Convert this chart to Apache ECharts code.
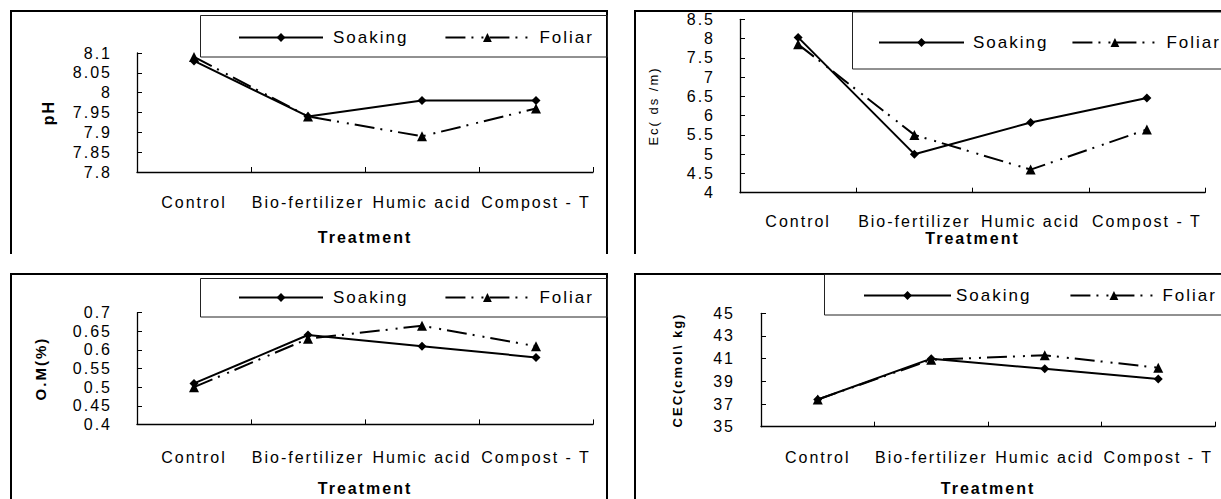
<!DOCTYPE html>
<html>
<head>
<meta charset="utf-8">
<script src="https://cdn.jsdelivr.net/npm/echarts@6/dist/echarts.min.js"></script>
<style>
  html, body { margin: 0; padding: 0; background: #fff; }
  #main { width: 1221px; height: 499px; }
  #main text { letter-spacing: 2px; }
</style>
</head>
<body>
<div id="main"></div>
<script>
// ---- data ----
var categories = ['Control', 'Bio-fertilizer', 'Humic acid', 'Compost - T'];
var seriesNames = ['Soaking', 'Foliar'];

var phSoaking = [8.08, 7.94, 7.98, 7.98];
var phFoliar  = [8.09, 7.94, 7.89, 7.96];

var ecSoaking = [8.03, 5.0, 5.82, 6.46];
var ecFoliar  = [7.85, 5.5, 4.6, 5.64];

var omSoaking = [0.51, 0.64, 0.61, 0.58];
var omFoliar  = [0.50, 0.63, 0.665, 0.61];

var cecSoaking = [37.4, 41.0, 40.1, 39.2];
var cecFoliar  = [37.4, 40.9, 41.3, 40.2];

var xAxisTitle = 'Treatment';
var yTitles = ['pH', 'Ec( ds /m)', 'O.M(%)', 'CEC(cmol\\ kg)'];
var yRanges = [[7.8, 8.1, 0.05], [4, 8.5, 0.5], [0.4, 0.7, 0.05], [35, 45, 2]];

// ---- layout ----
var FONT = 'Liberation Sans, Arial, sans-serif';
var grids = [
  { left: 137, top: 53,    width: 456, height: 119 },
  { left: 740, top: 19.3,  width: 465, height: 173.4 },
  { left: 137, top: 312.7, width: 456, height: 111.7 },
  { left: 761, top: 313.3, width: 454, height: 113.4 }
];
var xLabelMargin = [22, 21, 25, 23];
var xNameGap = [57, 38, 56, 54];
var yLabelMargin = [25, 25, 25, 26];
var yNameGap = [81, 80, 89, 77];
var yNameStyle = [
  { fontWeight: 'bold', fontSize: 16 },
  { fontWeight: 'normal', fontSize: 13 },
  { fontWeight: 'bold', fontSize: 15 },
  { fontWeight: 'bold', fontSize: 13 }
];
var legendPos = [
  { left: 238, top: 29, itemWidth: 84, itemGap: 50, textPad: 5 },
  { left: 878, top: 34, itemWidth: 85, itemGap: 37, textPad: 4 },
  { left: 238, top: 289, itemWidth: 84, itemGap: 50, textPad: 5 },
  { left: 863, top: 287, itemWidth: 87, itemGap: 52, textPad: 0 }
];

var dataSets = [[phSoaking, phFoliar], [ecSoaking, ecFoliar], [omSoaking, omFoliar], [cecSoaking, cecFoliar]];

var xAxes = [], yAxes = [], series = [], legends = [];
for (var i = 0; i < 4; i++) {
  xAxes.push({
    type: 'category', gridIndex: i, data: categories, boundaryGap: true,
    axisLine: { show: true, lineStyle: { color: '#000', width: 1.3 } },
    axisTick: { show: true, inside: true, length: 5, lineStyle: { color: '#000' } },
    axisLabel: { interval: 0, color: '#000', fontSize: 16, fontFamily: FONT, margin: xLabelMargin[i] },
    splitLine: { show: false },
    name: xAxisTitle, nameLocation: 'middle', nameGap: xNameGap[i],
    nameTextStyle: { color: '#000', fontSize: 16, fontWeight: 'bold', fontFamily: FONT }
  });
  yAxes.push({
    type: 'value', gridIndex: i, min: yRanges[i][0], max: yRanges[i][1], interval: yRanges[i][2],
    axisLine: { show: true, lineStyle: { color: '#000', width: 1.3 } },
    axisTick: { show: true, inside: true, length: 5, lineStyle: { color: '#000' } },
    axisLabel: { color: '#000', fontSize: 16, fontFamily: FONT, margin: yLabelMargin[i],
      formatter: function (v) { return String(+(+v).toFixed(3)); } },
    splitLine: { show: false },
    name: yTitles[i], nameLocation: 'middle', nameGap: yNameGap[i],
    nameTextStyle: { color: '#000', fontSize: yNameStyle[i].fontSize, fontWeight: yNameStyle[i].fontWeight, fontFamily: FONT }
  });
  series.push({
    name: seriesNames[0], type: 'line', xAxisIndex: i, yAxisIndex: i,
    data: dataSets[i][0], symbol: 'diamond', symbolSize: 9,
    lineStyle: { color: '#000', width: 2, type: 'solid' },
    itemStyle: { color: '#000' }
  });
  series.push({
    name: seriesNames[1], type: 'line', xAxisIndex: i, yAxisIndex: i,
    data: dataSets[i][1], symbol: 'triangle', symbolSize: 10,
    lineStyle: { color: '#000', width: 2, type: [20, 6, 2, 8, 2, 6] },
    itemStyle: { color: '#000' }
  });
  legends.push({
    data: seriesNames, left: legendPos[i].left, top: legendPos[i].top,
    itemWidth: legendPos[i].itemWidth, itemHeight: 11, itemGap: legendPos[i].itemGap,
    padding: 0, selectedMode: false,
    textStyle: { color: '#000', fontSize: 17, fontFamily: FONT, padding: [0, 0, 0, legendPos[i].textPad] }
  });
}

var frame = { stroke: '#000', lineWidth: 2, fill: null };
var box = { stroke: '#222', lineWidth: 1, fill: null };
var graphics = [
  { type: 'polyline', shape: { points: [[11, 254], [11, 11], [607, 11], [607, 254]] }, style: frame, silent: true },
  { type: 'polyline', shape: { points: [[635, 254], [635, 11], [1222, 11]] }, style: frame, silent: true },
  { type: 'polyline', shape: { points: [[11, 500], [11, 274], [607, 274], [607, 500]] }, style: frame, silent: true },
  { type: 'polyline', shape: { points: [[635, 500], [635, 274], [1222, 274]] }, style: frame, silent: true },
  { type: 'rect', shape: { x: 200.5, y: 15.5, width: 407, height: 41.5 }, style: box, silent: true },
  { type: 'rect', shape: { x: 852.5, y: 12, width: 380, height: 57 }, style: box, silent: true },
  { type: 'rect', shape: { x: 200.5, y: 278.5, width: 407, height: 38.5 }, style: box, silent: true },
  { type: 'rect', shape: { x: 824.5, y: 274.5, width: 400, height: 40.5 }, style: box, silent: true }
];

var chart = echarts.init(document.getElementById('main'), null, { renderer: 'svg' });
chart.setOption({
  animation: false,
  backgroundColor: '#fff',
  grid: grids,
  xAxis: xAxes,
  yAxis: yAxes,
  legend: legends,
  series: series,
  graphic: graphics
});
</script>
</body>
</html>
